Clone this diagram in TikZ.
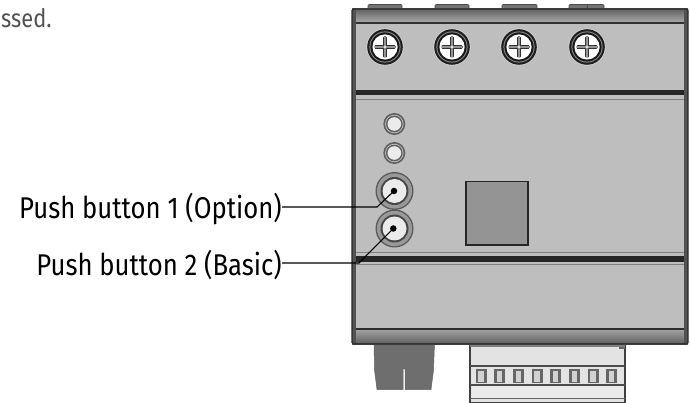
\documentclass[tikz,border=0pt]{standalone}
\usepackage{fontspec}
\newfontfamily\labelfont[FakeStretch=0.857]{Fira Sans}
\definecolor{bodygray}{gray}{0.745}
\definecolor{edgegray}{gray}{0.16}
\tikzset{
  x=1pt,y=-1pt,
  labeltext/.style={font=\labelfont\fontsize{30}{32}\selectfont,text=black,inner sep=0pt},
  leader/.style={draw=black,line width=1.1pt},
  tipdot/.style={circle,fill=black,inner sep=0pt,minimum size=6.5pt},
  edge/.style={draw=edgegray,line width=1.2pt},
  heavy/.style={draw=black!85,line width=4.5pt},
  tab/.style={fill=black!55,draw=black!70,line width=.6pt},
}
\newcommand{\screw}[2]{%
  \begin{scope}[shift={(#1,#2)}]
    \fill[black!15] (0,0) circle (18.5);
    \fill[black!88] (0,0) circle (17.8);
    \fill[black!45] (0,0) circle (15.6);
    \fill[black!90] (0,0) circle (14.6);
    \fill[white] (0,0) circle (12.6);
    \fill[black!80,rounded corners=1pt] (-10.5,-1.9) rectangle (10.5,1.9);
    \fill[black!80,rounded corners=1pt] (-1.9,-10.5) rectangle (1.9,10.5);
    \fill[black!42] (-9.8,-1) rectangle (9.8,1);
    \fill[black!42] (-1,-9.8) rectangle (1,9.8);
    \fill[white] (0,0) circle (1.1);
  \end{scope}}
\newcommand{\led}[2]{%
  \fill[black!62] (#1,#2) circle (11);
  \fill[black!22] (#1,#2) circle (9.2);
  \fill[black!62] (#1,#2) circle (8.4);
  \fill[black!8] (#1,#2) circle (6.8);}
\newcommand{\bigbtn}[2]{%
  \fill[black!65] (#1,#2) circle (19);
  \fill[black!40] (#1,#2) circle (17.6);
  \fill[black!72] (#1,#2) circle (14);
  \fill[black!8] (#1,#2) circle (12);}
\begin{document}
\begin{tikzpicture}
\useasboundingbox (0,0) rectangle (690,403);
\fill[white] (0,0) rectangle (690,403);
% text fragment at the top left
\node[labeltext,font=\labelfont\fontsize{25.5}{30}\selectfont,text=black!68,anchor=base west] (frag) at (1,28) {ssed.};
% top tabs
\foreach \a/\b in {368/402,435/469,502/537,569/604}{
  \fill[tab,rounded corners=1pt] (\a,4.5) rectangle (\b,10);
}
\draw[black!70,line width=.6pt] (587,4.5) -- (587,9);
% foot
\path[fill=black!57,draw=black!60,line width=.5pt]
  (374,343) -- (374.5,370) -- (377,389.5) -- (403.2,389.5) -- (403.2,368)
  arc[start angle=180,end angle=0,radius=1] -- (405.2,389.5) -- (431,389.5) -- (433.5,370) -- (434.5,343) -- cycle;
% terminal connector
\fill[black!11] (470,343) rectangle (625,402);
\fill[black!8] (472,385) rectangle (624,398);
\foreach \i in {0,...,7}{
  \pgfmathsetmacro{\xc}{481+18.67*\i}
  \fill[black!60] (\xc-5.5,369) rectangle (\xc+5.5,383);
  \fill[black!18] (\xc-2.6,370.5) rectangle (\xc+2.6,381.5);
  \fill[black!75] (\xc-3,402) rectangle (\xc+3,403);
}
\draw[black!75,line width=1.2pt] (470,343) -- (470,402.5) -- (625,402.5) -- (625,343);
\draw[black!70,line width=1.2pt] (470,366) -- (625,366);
\draw[black!70,line width=1.2pt] (470,385) -- (625,385);
\draw[black!60,line width=1pt] (470,398) -- (625,398);
\fill[black!60] (619,344) rectangle (625,349);
\fill[black!50] (470,344) rectangle (625,347);
% body
\fill[bodygray] (352,9) rectangle (688,344);
\shade[top color=black!62,bottom color=black!32] (352,9) rectangle (688,23);
\shade[top color=black!36,bottom color=black!62] (352,329) rectangle (688,344);
% horizontal lines
\draw[black!80,line width=1.3pt] (352,23) -- (688,23);
\draw[heavy] (352,92.5) -- (688,92.5);
\draw[black!50,line width=1pt] (352,99.5) -- (688,99.5);
\draw[black!50,line width=1pt] (352,252) -- (688,252);
\draw[heavy,line width=6pt] (352,259) -- (688,259);
\draw[black!50,line width=1pt] (352,264) -- (688,264);
\draw[black!82,line width=1.3pt] (352,329) -- (688,329);
% outline
\fill[black!68] (352,9) rectangle (355.5,344);
\fill[black!68] (684,9) rectangle (688,344);
\draw[edge,rounded corners=1.5pt] (352,9) rectangle (688,344);
\draw[black!80,line width=1.6pt] (352,343.5) -- (688,343.5);
% screws
\screw{385}{47}\screw{452}{47}\screw{519}{47}\screw{587}{47}
% LEDs, buttons
\led{394.3}{124}\led{394.3}{153}
\bigbtn{394.5}{191}\bigbtn{394.5}{228.5}
% display window
\draw[fill=black!42,draw=black!85,line width=1.6pt] (466,181.5) rectangle (528,245);
% labels and leaders
\node[tipdot] (btnone) at (394,191) {};
\node[tipdot] (btntwo) at (393.3,228.5) {};
\node[labeltext,anchor=east] (labone) at (282,209) {Push button 1 (Option)};
\node[labeltext,anchor=east] (labtwo) at (282,265) {Push button 2 (Basic)};
\coordinate (bendone) at (377,207);
\coordinate (bendtwo) at (359,263);
\draw[leader] (labone.east |- bendone) -- (bendone) -- (btnone.center);
\draw[leader] (labtwo.east |- bendtwo) -- (bendtwo) -- (btntwo.center);
\end{tikzpicture}
\end{document}
